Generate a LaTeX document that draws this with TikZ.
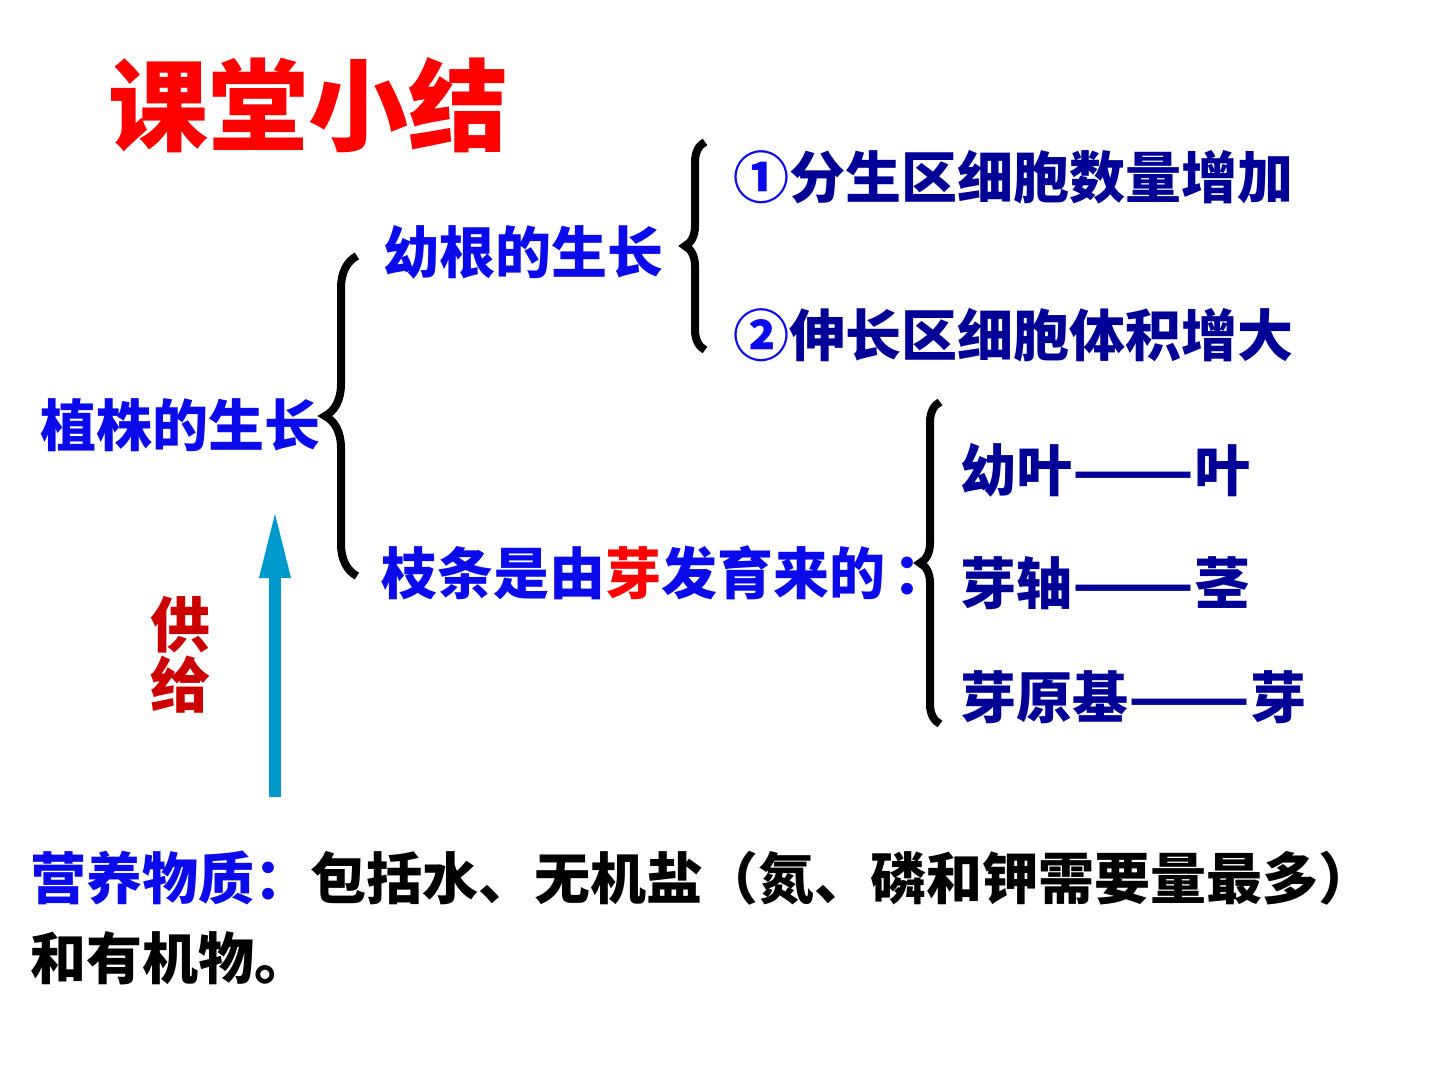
\documentclass[tikz,border=0pt]{standalone}
\usepackage{fontspec}
\setmainfont{Noto Sans CJK SC}
\usetikzlibrary{positioning, decorations.pathreplacing, arrows.meta}
\definecolor{titlered}{RGB}{255,0,0}
\definecolor{itemblue}{RGB}{10,10,235}
\definecolor{navy}{RGB}{0,0,150}
\definecolor{supplyred}{RGB}{204,0,0}
\definecolor{arrowblue}{RGB}{0,153,204}
\newcommand{\wdash}{\scalebox{1.27}[1]{——}}
\tikzstyle{heading} = [
    anchor=west,
    inner sep=0pt,
    text=titlered,
    font=\bfseries\fontsize{50}{60}\selectfont
]
\tikzstyle{mainitem} = [
    anchor=west,
    inner sep=0pt,
    text=itemblue,
    font=\bfseries\fontsize{28}{34}\selectfont
]
\tikzstyle{detail} = [
    anchor=west,
    inner sep=0pt,
    text=navy,
    font=\bfseries\fontsize{28}{34}\selectfont
]
\tikzstyle{note} = [
    anchor=west,
    inner sep=0pt,
    text=black,
    font=\bfseries\fontsize{28}{33}\selectfont
]
\tikzstyle{supplytext} = [
    align=center,
    inner sep=0pt,
    text=supplyred,
    font=\bfseries\fontsize{30}{30}\selectfont
]
\tikzstyle{supply} = [line width=6pt, draw=arrowblue, -{Triangle[width=14pt, length=35pt]}]
\tikzset{bracket/.style={decorate, decoration={brace, amplitude=#1}, line width=4pt}}

\begin{document}
\begin{tikzpicture}[x=0.5pt, y=-0.5pt]
\useasboundingbox (0,0) rectangle (1440,1080);

\node (title) [heading] at (108,105) {课堂小结};

\node (plant) [mainitem] at (40,425) {植株的生长};

\node (root) [mainitem] at (383,252) {幼根的生长};
\node (shoot) [mainitem] at (381,573)
{枝条是由\textcolor{titlered}{芽}发育来的\hspace{4pt}：};

\node (division) [detail] at (733,177)
{\textcolor{itemblue}{①}分生区细胞数量增加};
\node (elongation) [detail, below=79pt of division.west, anchor=west]
{\textcolor{itemblue}{②}伸长区细胞体积增大};

\node (leaf) [detail] at (960,470) {幼叶\wdash 叶};
\node (stem) [detail, below=56.5pt of leaf.west, anchor=west] {芽轴\wdash 茎};
\node (bud) [detail, below=57pt of stem.west, anchor=west] {芽原基\wdash 芽};

\node (supplylabel) [supplytext] at (180,655) {供\\给};

\node (nutrient) [note] at (30,878)
{\textcolor{itemblue}{营养物质：}包括水、无机盐（氮、磷和钾需要量最多）};
\node (organic) [note, below=40pt of nutrient.west, anchor=west] {和有机物。};

% braces
\coordinate (plantlow) at (357,576);
\coordinate (planthigh) at (357,256);
\coordinate (rootlow) at (705,350);
\coordinate (roothigh) at (705,142);
\coordinate (shootlow) at (940,724);
\coordinate (shoothigh) at (940,402);
\draw [bracket=16pt] (plantlow) -- (planthigh);
\draw [bracket=10pt] (rootlow) -- (roothigh);
\draw [bracket=10pt] (shootlow) -- (shoothigh);

% supply arrow
\coordinate (flowstart) at (275,797);
\coordinate (flowend) at (275,508);
\draw [supply] (flowstart) -- (flowend);

\end{tikzpicture}
\end{document}
